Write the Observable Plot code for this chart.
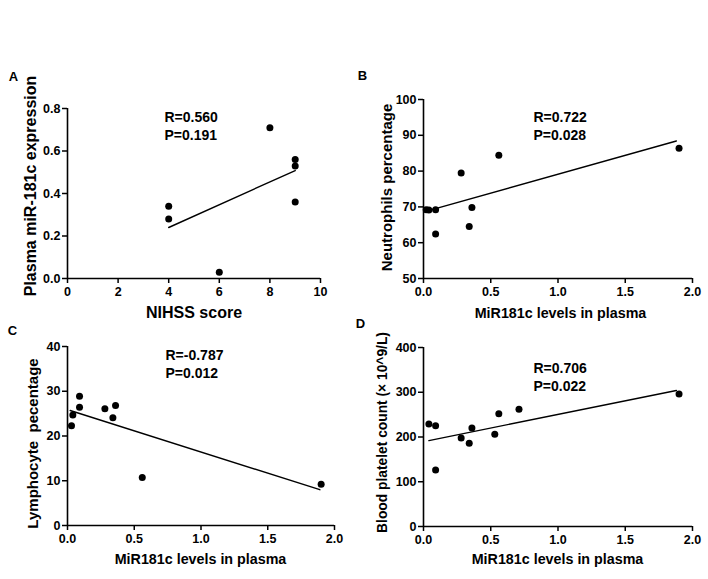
<!DOCTYPE html>
<html><head><meta charset="utf-8">
<script src="https://cdn.jsdelivr.net/npm/d3@7"></script>
<script src="https://cdn.jsdelivr.net/npm/@observablehq/plot@0.6"></script>
<style>
body{margin:0;background:#fff;}
#wrap{position:relative;width:708px;height:579px;overflow:hidden;background:#fff;}
#wrap svg{position:absolute;overflow:visible;background:transparent !important;}
</style></head><body><div id="wrap"></div>
<script>
// ---------- data ----------
// Panel A
const nihssScore   = [4, 4, 6, 8, 9, 9, 9];
const plasmaMiR    = [0.34, 0.28, 0.03, 0.71, 0.56, 0.53, 0.36];
const fitA_x       = [4, 9];
const fitA_y       = [0.24, 0.508];
// Panel B
const neutroX      = [0.02, 0.04, 0.09, 0.09, 0.28, 0.34, 0.36, 0.56, 1.90];
const neutroY      = [69.2, 69.1, 69.2, 62.4, 79.5, 64.5, 69.8, 84.4, 86.4];
const fitB_x       = [0.03, 1.88];
const fitB_y       = [68.9, 88.4];
// Panel C
const lymphoX      = [0.03, 0.04, 0.09, 0.09, 0.28, 0.34, 0.36, 0.56, 1.90];
const lymphoY      = [22.3, 24.7, 28.9, 26.4, 26.1, 24.1, 26.8, 10.7, 9.2];
const fitC_x       = [0.02, 1.89];
const fitC_y       = [25.7, 8.0];
// Panel D
const plateletX    = [0.04, 0.09, 0.09, 0.28, 0.34, 0.36, 0.53, 0.56, 0.71, 1.90];
const plateletY    = [229, 225, 126, 198, 186, 220, 206, 252, 262, 296];
const fitD_x       = [0.04, 1.88];
const fitD_y       = [192, 304];
// Tick values
const ticksA_x = [0, 2, 4, 6, 8, 10];
const ticksA_y = [0, 0.2, 0.4, 0.6, 0.8];
const ticksMiR = [0, 0.5, 1.0, 1.5, 2.0];
const ticksB_y = [50, 60, 70, 80, 90, 100];
const ticksC_y = [0, 10, 20, 30, 40];
const ticksD_y = [0, 100, 200, 300, 400];
// Text
const letters = ["A", "B", "C", "D"];
const xTitles = ["NIHSS score", "MiR181c levels in plasma", "MiR181c levels in plasma", "MiR181c levels in plasma"];
const yTitles = ["Plasma miR-181c expression", "Neutrophils percentage", "Lymphocyte  pecentage", "Blood platelet count (\u00d7 10^9/L)"];
const stats = ["R=0.560\nP=0.191", "R=0.722\nP=0.028", "R=-0.787\nP=0.012", "R=0.706\nP=0.022"];

// ---------- layout (page pixels) ----------
const FONT = '"Liberation Sans", Arial, Helvetica, sans-serif';
const panels = [
  {svg:[0,60,354,260],   frame:[67,108,320,278],  xd:[0,10], yd:[0,0.8], xt:ticksA_x, yt:ticksA_y, xf:d3.format("d"), yf:d3.format(".1f"),
   xs:nihssScore, ys:plasmaMiR, fx:fitA_x, fy:fitA_y,
   letter:[13,76], yTitle:[30,185.5,16], xTitle:[193.5,312,16], stat:[164,108.5]},
  {svg:[354,60,354,260], frame:[423,99,692,278],  xd:[0,2], yd:[50,100], xt:ticksMiR, yt:ticksB_y, xf:d3.format(".1f"), yf:d3.format("d"),
   xs:neutroX, ys:neutroY, fx:fitB_x, fy:fitB_y,
   letter:[362,75], yTitle:[387,187,15], xTitle:[560,313,14.3], stat:[533,109]},
  {svg:[0,305,354,274],  frame:[67,346,334,525],  xd:[0,2], yd:[0,40], xt:ticksMiR, yt:ticksC_y, xf:d3.format(".1f"), yf:d3.format("d"),
   xs:lymphoX, ys:lymphoY, fx:fitC_x, fy:fitC_y,
   letter:[12,330], yTitle:[33,443,15], xTitle:[200,559,14.3], stat:[165,347]},
  {svg:[354,305,354,274],frame:[423,347,692,526], xd:[0,2], yd:[0,400], xt:ticksMiR, yt:ticksD_y, xf:d3.format(".1f"), yf:d3.format("d"),
   xs:plateletX, ys:plateletY, fx:fitD_x, fy:fitD_y,
   letter:[360,323], yTitle:[382,432,13.8], xTitle:[557,559,14.3], stat:[533,360]}
];

const wrap = document.getElementById("wrap");

panels.forEach((p, i) => {
  const [sl, st, sw, sh] = p.svg;
  const [fl, ft, fr, fb] = p.frame;
  const pts = p.xs.map((x, k) => ({x, y: p.ys[k]}));
  const fit = p.fx.map((x, k) => ({x, y: p.fy[k]}));
  const lab = (txt, px, py, opts) => Plot.text([txt], {
    text: d => d, frameAnchor: "top-left", dx: px - fl, dy: py - ft,
    textAnchor: "middle", lineAnchor: "middle",
    fontWeight: "bold", fill: "#000", ...opts
  });
  const chart = Plot.plot({
    width: sw, height: sh,
    marginLeft: fl - sl, marginRight: sl + sw - fr,
    marginTop: ft - st, marginBottom: st + sh - fb,
    x: {domain: p.xd, type: "linear"},
    y: {domain: p.yd, type: "linear"},
    style: {fontFamily: FONT, fontSize: "12px", color: "#000", background: "transparent", overflow: "visible"},
    marks: [
      Plot.axisX(p.xt, {tickSize: 5, tickPadding: 4, tickFormat: p.xf, fontSize: 12.5, fontWeight: "bold", strokeWidth: 1.5, label: null}),
      Plot.axisY(p.yt, {tickSize: 5, tickPadding: 2, tickFormat: p.yf, fontSize: 12.5, fontWeight: "bold", strokeWidth: 1.5, label: null}),
      Plot.ruleY([p.yd[0]], {stroke: "#000", strokeWidth: 1.6}),
      Plot.ruleX([p.xd[0]], {stroke: "#000", strokeWidth: 1.6}),
      Plot.line(fit, {x: "x", y: "y", stroke: "#000", strokeWidth: 1.4}),
      Plot.dot(pts, {x: "x", y: "y", r: 3.5, fill: "#000", stroke: "none"}),
      lab(stats[i], p.stat[0], p.stat[1], {textAnchor: "start", lineAnchor: "top", fontSize: 14, lineHeight: 1.28}),
      lab(letters[i], p.letter[0], p.letter[1], {fontSize: 13}),
      lab(yTitles[i], p.yTitle[0], p.yTitle[1], {fontSize: p.yTitle[2], rotate: -90}),
      lab(xTitles[i], p.xTitle[0], p.xTitle[1], {fontSize: p.xTitle[2]})
    ]
  });
  chart.style.left = sl + "px";
  chart.style.top = st + "px";
  wrap.appendChild(chart);
});
</script>
</body></html>
